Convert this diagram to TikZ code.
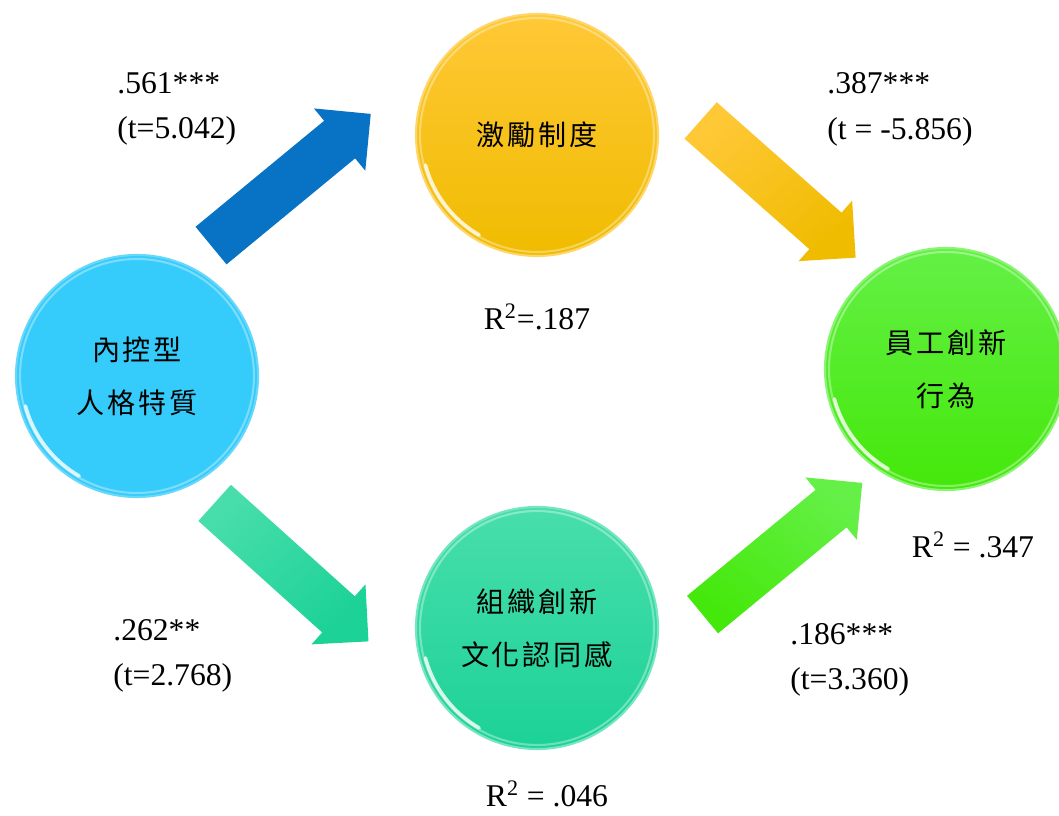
\documentclass[tikz,border=0pt]{standalone}
\usepackage{fontspec}
\setmainfont{Liberation Serif}
\newfontfamily\cjk[LetterSpace=10]{Noto Sans CJK TC}
\usetikzlibrary{shapes.arrows,calc}

\definecolor{skyfill}{RGB}{53,203,250}
\definecolor{goldtop}{RGB}{255,200,55}
\definecolor{goldbot}{RGB}{240,188,0}
\definecolor{teatop}{RGB}{72,222,172}
\definecolor{teabot}{RGB}{28,210,150}
\definecolor{lawntop}{RGB}{100,240,70}
\definecolor{lawnbot}{RGB}{68,232,10}
\definecolor{arrowblue}{RGB}{8,114,196}

\tikzset{
  var/.style={circle, minimum size=4.84cm, inner sep=0pt, align=center,
              line width=1.2pt, font=\cjk\fontsize{16}{30}\selectfont},
  blockarrow/.style={single arrow, single arrow head extend=0.32cm,
              inner xsep=0pt, inner ysep=0.48cm, minimum height=4.14cm},
  coef/.style={anchor=west, align=left, inner sep=0pt,
              font=\fontsize{18}{26}\selectfont},
  rsq/.style={inner sep=0pt, font=\fontsize{18}{22}\selectfont}
}

\begin{document}
\begin{tikzpicture}
  \useasboundingbox (0,0) rectangle (21.18,16.32);
  % Variables
  \node[var, fill=skyfill, draw=skyfill!75!white] (ctrl) at (2.74,8.80) {內控型\\人格特質};
  \node[var, top color=goldtop, bottom color=goldbot, draw=goldtop!75!white]
    (incent) at (10.74,13.62) {激勵制度};
  \node[var, top color=teatop, bottom color=teabot, draw=teatop!75!white]
    (culture) at (10.74,3.76) {組織創新\\文化認同感};
  \node[var, top color=lawntop, bottom color=lawnbot, draw=lawntop!75!white]
    (innov) at (18.92,8.94) {員工創新\\行為};
  % Glossy rims
  \foreach \v in {ctrl,incent,culture,innov}{
    \draw[white, opacity=0.35, line width=1.2pt] (\v.center) circle (2.34);
    \draw[white, opacity=0.8, line width=2pt, line cap=round]
      ($(\v.center)+(195:2.31)$) arc (195:240:2.31);
  }
  % Paths
  \node[blockarrow, fill=arrowblue, rotate=39.5] (p1) at (5.63,12.57) {};
  \node[blockarrow, top color=goldtop, bottom color=goldbot, shading angle=41.5,
        rotate=-41.5] (p2) at (15.38,12.70) {};
  \node[blockarrow, top color=teatop, bottom color=teabot, shading angle=42,
        rotate=-42] (p3) at (5.65,5.04) {};
  \node[blockarrow, top color=lawntop, bottom color=lawnbot, shading angle=-39.5,
        rotate=39.5] (p4) at (15.46,5.19) {};
  % Path coefficients
  \node[coef] (c1) at (2.34,14.14) {.561***\\(t=5.042)};
  \node[coef] (c2) at (16.54,14.13) {.387***\\(t = -5.856)};
  \node[coef] (c3) at (2.26,3.20) {.262**\\(t=2.768)};
  \node[coef] (c4) at (15.80,3.12) {.186***\\(t=3.360)};
  % Explained variance
  \node[rsq] (r1) at (10.74,9.98) {R\textsuperscript{2}=.187};
  \node[rsq] (r2) at (19.46,5.42) {R\textsuperscript{2} = .347};
  \node[rsq] (r3) at (10.94,0.44) {R\textsuperscript{2} = .046};
\end{tikzpicture}
\end{document}
